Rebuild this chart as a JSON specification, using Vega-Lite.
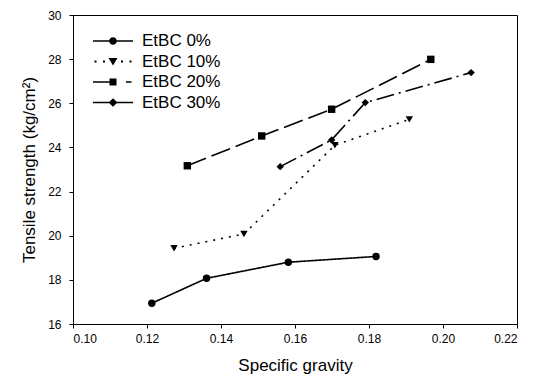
{
  "$schema": "https://vega.github.io/schema/vega-lite/v6.json",
  "width": 444,
  "height": 309,
  "autosize": {"type": "none"},
  "padding": {"left": 73, "top": 15, "right": 24, "bottom": 54},
  "background": "white",
  "config": {
    "font": "Liberation Sans",
    "view": {"stroke": "black", "strokeWidth": 1},
    "axis": {
      "grid": false,
      "domainColor": "black",
      "tickColor": "black",
      "labelColor": "black",
      "titleColor": "black",
      "labelFont": "Liberation Sans",
      "titleFont": "Liberation Sans",
      "titleFontWeight": "normal",
      "labelFontSize": 12,
      "titleFontSize": 17,
      "tickSize": 4
    }
  },
  "data": {
    "values": [
      {"series": "EtBC 0%", "sg": 0.1213, "ts": 16.94},
      {"series": "EtBC 0%", "sg": 0.1361, "ts": 18.07},
      {"series": "EtBC 0%", "sg": 0.1582, "ts": 18.8},
      {"series": "EtBC 0%", "sg": 0.1819, "ts": 19.06},
      {"series": "EtBC 10%", "sg": 0.1273, "ts": 19.43},
      {"series": "EtBC 10%", "sg": 0.1462, "ts": 20.08},
      {"series": "EtBC 10%", "sg": 0.1708, "ts": 24.1},
      {"series": "EtBC 10%", "sg": 0.1909, "ts": 25.27},
      {"series": "EtBC 20%", "sg": 0.1309, "ts": 23.17},
      {"series": "EtBC 20%", "sg": 0.151, "ts": 24.52},
      {"series": "EtBC 20%", "sg": 0.1699, "ts": 25.73},
      {"series": "EtBC 20%", "sg": 0.1967, "ts": 27.99},
      {"series": "EtBC 30%", "sg": 0.156, "ts": 23.13},
      {"series": "EtBC 30%", "sg": 0.1699, "ts": 24.34},
      {"series": "EtBC 30%", "sg": 0.179, "ts": 26.03},
      {"series": "EtBC 30%", "sg": 0.2076, "ts": 27.39}
    ]
  },
  "encoding": {
    "x": {
      "field": "sg",
      "type": "quantitative",
      "scale": {"domain": [0.1, 0.22], "nice": false, "zero": false},
      "axis": {
        "title": "Specific gravity",
        "values": [0.1, 0.12, 0.14, 0.16, 0.18, 0.2, 0.22],
        "format": ".2f",
        "labelPadding": 5,
        "titlePadding": 13
      }
    },
    "y": {
      "field": "ts",
      "type": "quantitative",
      "scale": {"domain": [16, 30], "nice": false, "zero": false},
      "axis": {
        "title": "Tensile strength (kg/cm²)",
        "values": [16, 18, 20, 22, 24, 26, 28, 30],
        "labelPadding": 8,
        "titlePadding": 9
      }
    }
  },
  "layer": [
    {
      "mark": {"type": "line", "color": "black", "strokeWidth": 1.6},
      "encoding": {
        "strokeDash": {
          "field": "series",
          "type": "nominal",
          "scale": {
            "domain": ["EtBC 0%", "EtBC 10%", "EtBC 20%", "EtBC 30%"],
            "range": [[1, 0], [2, 6], [20, 6], [18, 5, 2, 5]]
          },
          "legend": null
        }
      }
    },
    {
      "mark": {"type": "point", "filled": true, "color": "black", "opacity": 1, "size": 55},
      "encoding": {
        "shape": {
          "field": "series",
          "type": "nominal",
          "scale": {
            "domain": ["EtBC 0%", "EtBC 10%", "EtBC 20%", "EtBC 30%"],
            "range": ["circle", "triangle-down", "square", "diamond"]
          },
          "legend": null
        }
      }
    },
    {
      "mark": {"type": "point", "filled": true, "color": "black", "opacity": 0},
      "encoding": {
        "shape": {
          "field": "series",
          "type": "nominal",
          "scale": {
            "domain": ["EtBC 0%", "EtBC 10%", "EtBC 20%", "EtBC 30%"],
            "range": [
              "M-2,-0.08H2V0.08H-2Z M0.38,0A0.38,0.38 0 1,1 -0.38,0A0.38,0.38 0 1,1 0.38,0Z",
              "M-1.85,-0.1H-1.65V0.1H-1.85Z M-1,-0.1H-0.8V0.1H-1Z M0.8,-0.1H1V0.1H0.8Z M1.65,-0.1H1.85V0.1H1.65Z M-0.45,-0.35L0.45,-0.35L0,0.4Z",
              "M-2,-0.08H0V0.08H-2Z M1.3,-0.08H1.85V0.08H1.3Z M-0.35,-0.35H0.35V0.35H-0.35Z",
              "M-2,-0.08H2V0.08H-2Z M0,-0.42L0.45,0L0,0.42L-0.45,0Z"
            ]
          },
          "legend": {
            "title": null,
            "orient": "none",
            "legendX": 30,
            "legendY": 16,
            "symbolSize": 400,
            "symbolFillColor": "black",
            "symbolStrokeColor": "black",
            "symbolStrokeWidth": 0,
            "symbolOpacity": 1,
            "labelFont": "Liberation Sans",
            "labelFontSize": 17,
            "labelColor": "black",
            "labelOffset": 19,
            "rowPadding": 2.5,
            "padding": 0
          }
        }
      }
    }
  ],
  "resolve": {"scale": {"shape": "independent"}}
}
